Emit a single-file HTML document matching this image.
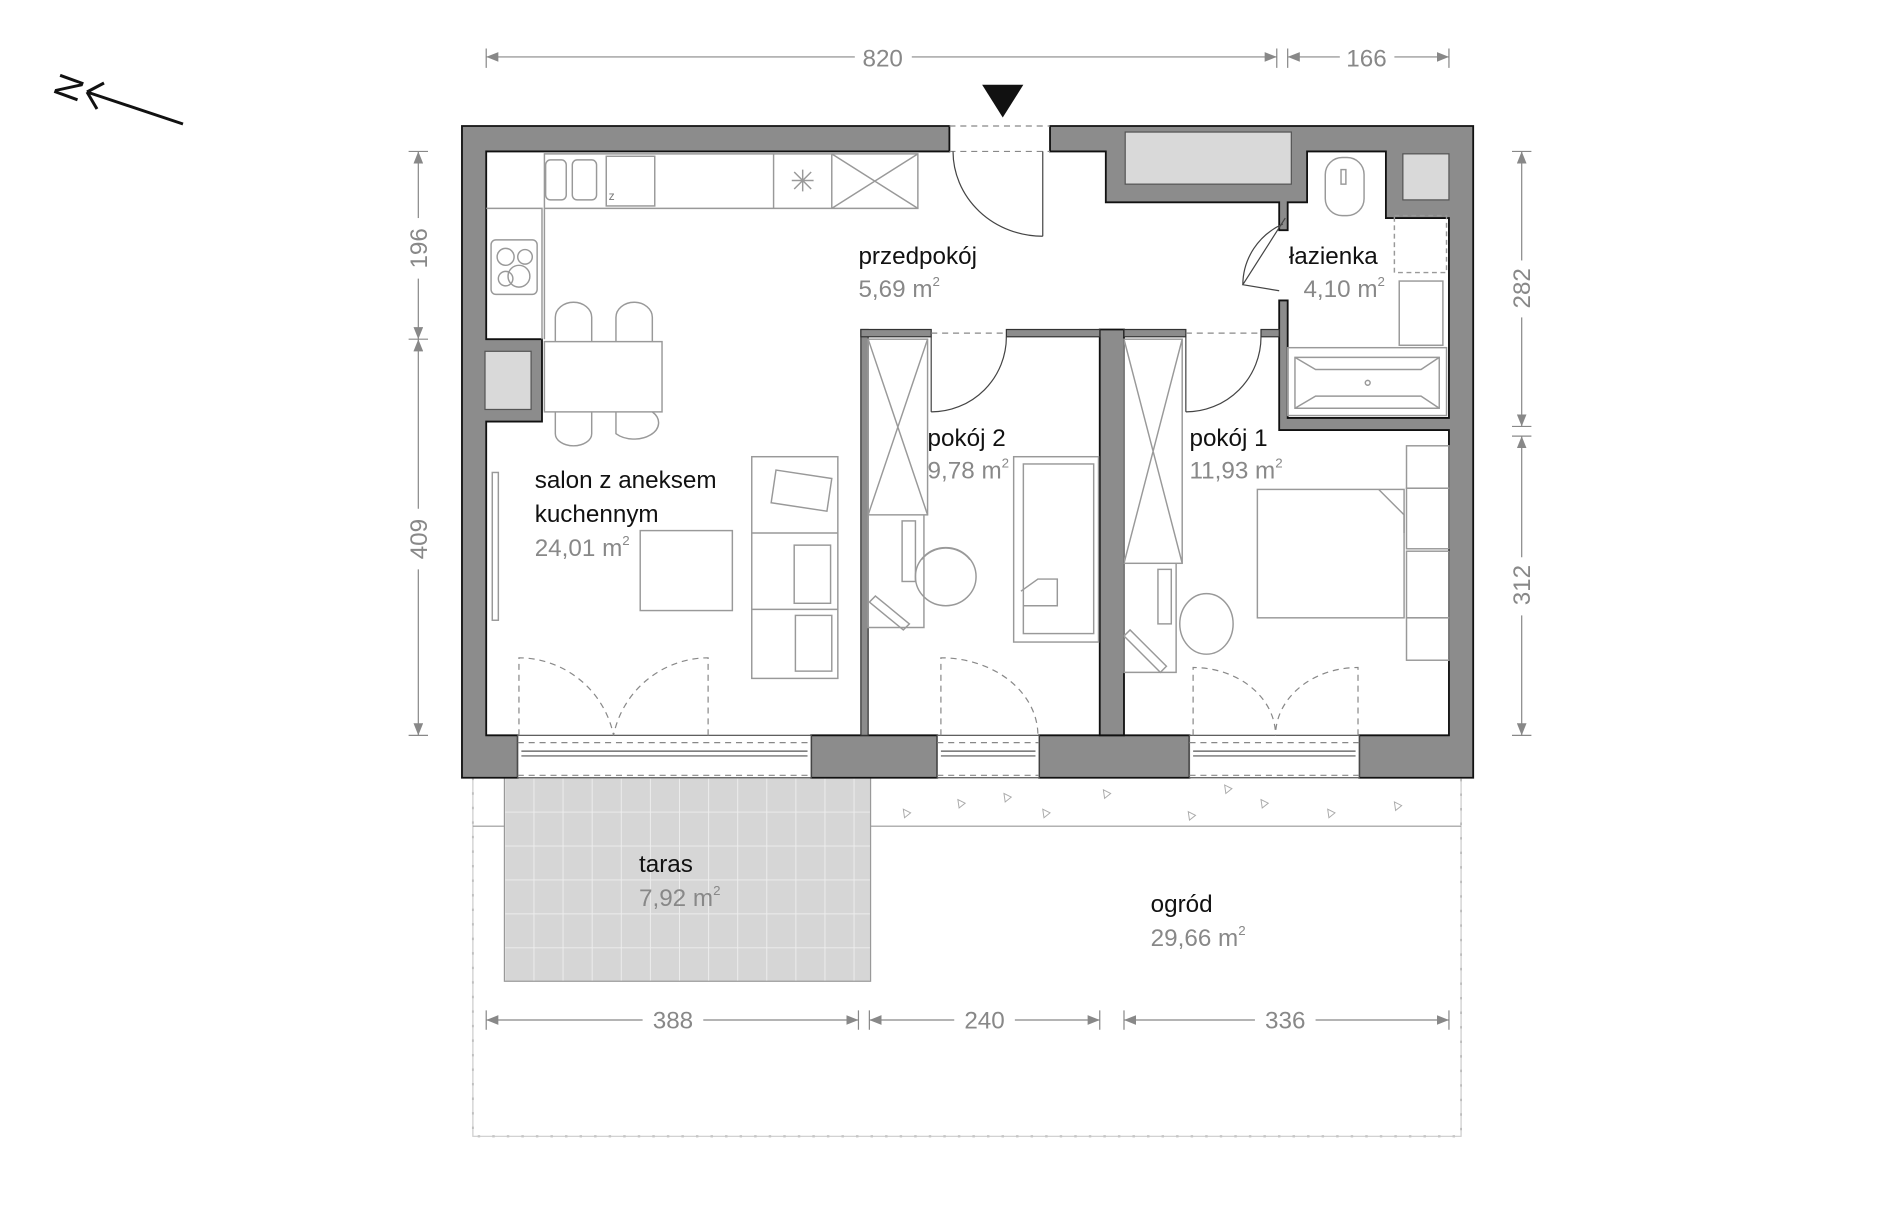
<!DOCTYPE html>
<html><head><meta charset="utf-8"><style>
html,body{margin:0;padding:0;background:#fff;width:1900px;height:1209px;overflow:hidden}
svg{display:block}
text{font-family:"Liberation Sans",sans-serif}
.lb{font-size:20px;fill:#111}
.ar{font-size:20px;fill:#888}
.dim{font-size:20px;fill:#888}
.f{fill:none;stroke:#999;stroke-width:1.2}
.d{fill:none;stroke:#888;stroke-width:1;stroke-dasharray:5 4}
</style></head><body>
<svg width="1900" height="1209" viewBox="0 0 1900 1209" style="position:absolute;left:0;top:0">
<text x="0" y="0" font-size="36" fill="#111" transform="translate(76,104) rotate(-70)" font-family="Liberation Sans">N</text>
<path d="M87,92 L183,124 M87,92 L104,83 M87,92 L97,109" fill="none" stroke="#111" stroke-width="3"/>
</svg>
<svg width="1900" height="1209" viewBox="0 0 1567 998" preserveAspectRatio="none" style="position:absolute;left:0;top:0">
<defs>
<marker id="ah" markerWidth="10" markerHeight="8" refX="10" refY="4" orient="auto-start-reverse"><path d="M0,0 L10,4 L0,8z" fill="#888"/></marker>
<pattern id="tile" x="416" y="642" width="24" height="28" patternUnits="userSpaceOnUse"><rect width="24" height="28" fill="#d6d6d6"/><path d="M0,0 H24 M0,0 V28" stroke="#eee" stroke-width="1.5"/></pattern>
</defs>

<g stroke="#888" stroke-width="1">
<path d="M401,40 V56 M1053,40 V56 M1062,40 V56 M1195,40 V56"/>
<line x1="401" y1="47" x2="705" y2="47" marker-start="url(#ah)"/>
<line x1="752" y1="47" x2="1053" y2="47" marker-end="url(#ah)"/>
<line x1="1062" y1="47" x2="1105" y2="47" marker-start="url(#ah)"/>
<line x1="1150" y1="47" x2="1195" y2="47" marker-end="url(#ah)"/>
<path d="M337,125 H353 M337,280 H353 M337,607 H353"/>
<line x1="345" y1="125" x2="345" y2="180" marker-start="url(#ah)"/>
<line x1="345" y1="230" x2="345" y2="280" marker-end="url(#ah)"/>
<line x1="345" y1="280" x2="345" y2="420" marker-start="url(#ah)"/>
<line x1="345" y1="470" x2="345" y2="607" marker-end="url(#ah)"/>
<path d="M1247,125 H1263 M1247,352 H1263 M1247,360 H1263 M1247,607 H1263"/>
<line x1="1255" y1="125" x2="1255" y2="215" marker-start="url(#ah)"/>
<line x1="1255" y1="262" x2="1255" y2="352" marker-end="url(#ah)"/>
<line x1="1255" y1="360" x2="1255" y2="460" marker-start="url(#ah)"/>
<line x1="1255" y1="508" x2="1255" y2="607" marker-end="url(#ah)"/>
<path d="M401,834 V850 M708,834 V850 M717,834 V850 M907,834 V850 M927,834 V850 M1195,834 V850"/>
<line x1="401" y1="842" x2="530" y2="842" marker-start="url(#ah)"/>
<line x1="580" y1="842" x2="708" y2="842" marker-end="url(#ah)"/>
<line x1="717" y1="842" x2="787" y2="842" marker-start="url(#ah)"/>
<line x1="837" y1="842" x2="907" y2="842" marker-end="url(#ah)"/>
<line x1="927" y1="842" x2="1035" y2="842" marker-start="url(#ah)"/>
<line x1="1085" y1="842" x2="1195" y2="842" marker-end="url(#ah)"/>
</g>
<text class="dim" x="728" y="55" text-anchor="middle">820</text>
<text class="dim" x="1127" y="55" text-anchor="middle">166</text>
<text class="dim" x="555" y="849" text-anchor="middle">388</text>
<text class="dim" x="812" y="849" text-anchor="middle">240</text>
<text class="dim" x="1060" y="849" text-anchor="middle">336</text>
<text class="dim" transform="translate(352,205) rotate(-90)" text-anchor="middle">196</text>
<text class="dim" transform="translate(352,445) rotate(-90)" text-anchor="middle">409</text>
<text class="dim" transform="translate(1262,238) rotate(-90)" text-anchor="middle">282</text>
<text class="dim" transform="translate(1262,483) rotate(-90)" text-anchor="middle">312</text>

<path d="M810,70 H844 L827,97z" fill="#111"/>

<path d="M390,642 V938 H1205 V642" fill="none" stroke="#999" stroke-width="1.5" stroke-dasharray="2 10"/>
<path d="M390,642 V938 H1205 V642" fill="none" stroke="#ccc" stroke-width="1"/>
<path d="M390,682 H416 M718,682 H1205" stroke="#999" stroke-width="1"/>
<rect x="416" y="642" width="302" height="168" fill="url(#tile)" stroke="#999"/>
<g fill="none" stroke="#aaa" stroke-width="0.8">
<path d="M790,660 l6,3 -5,4z M828,655 l6,3 -5,4z M860,668 l6,3 -5,4z M910,652 l6,3 -5,4z M980,670 l6,3 -5,4z M1040,660 l6,3 -5,4z M1095,668 l6,3 -5,4z M1150,662 l6,3 -5,4z M745,668 l6,3 -5,4z M1010,648 l6,3 -5,4z"/>
</g>

<g fill="#8c8c8c" stroke="#111" stroke-width="1.5">
<path d="M381,104 H783 V125 H401 V280 H447 V348 H401 V607 H427 V642 H381z"/>
<path d="M866,104 H1215 V642 H1121 V607 H1195 V355 H1055 V248 H1062 V345 H1195 V180 H1143 V125 H1078 V167 H1062 V190 H1055 V167 H912 V125 H866z"/>
<path d="M669,607 H773 V642 H669z"/>
<path d="M857,607 H981 V642 H857z"/>
<path d="M907,272 H927 V607 H907z"/>
</g>
<rect x="710" y="272" width="6" height="335" fill="#8c8c8c" stroke="#333" stroke-width="1"/>
<rect x="710" y="272" width="58" height="6" fill="#8c8c8c" stroke="#333" stroke-width="1"/>
<rect x="830" y="272" width="77" height="6" fill="#8c8c8c" stroke="#333" stroke-width="1"/>
<rect x="927" y="272" width="51" height="6" fill="#8c8c8c" stroke="#333" stroke-width="1"/>
<rect x="1040" y="272" width="15" height="6" fill="#8c8c8c" stroke="#333" stroke-width="1"/>
<rect x="928" y="109" width="137" height="43" fill="#d9d9d9" stroke="#555"/>
<rect x="1157" y="127" width="38" height="38" fill="#d9d9d9" stroke="#555"/>
<rect x="400" y="290" width="38" height="48" fill="#d9d9d9" stroke="#555"/>

<g fill="#fff" stroke="#555" stroke-width="1">
<rect x="427" y="607" width="242" height="35"/><rect x="773" y="607" width="84" height="35"/><rect x="981" y="607" width="140" height="35"/>
</g>
<g class="d"><path d="M427,613 H669 M427,640 H669 M773,613 H857 M773,640 H857 M981,613 H1121 M981,640 H1121 M783,104 H866 M783,125 H866 M768,275 H830 M978,275 H1040"/></g>
<g stroke="#555" fill="none" stroke-width="1"><path d="M430,620 H666 M430,624 H666 M776,620 H854 M776,624 H854 M984,620 H1118 M984,624 H1118"/></g>

<g fill="none" stroke="#444" stroke-width="1">
<path d="M860,125 V195 M786,125 A74,70 0 0 0 860,195"/>
<path d="M768,278 V340 M768,340 A62,62 0 0 0 830,278"/>
<path d="M978,278 V340 M978,340 A62,62 0 0 0 1040,278"/>
<path d="M1060,180 L1025,235 L1055,240 M1025,235 A55,55 0 0 1 1058,185"/>
</g>
<g class="d"><path d="M428,607 V543 A80,80 0 0 1 506,607 M584,607 V543 A80,80 0 0 0 506,607 M776,607 V543 A80,64 0 0 1 856,607 M984,607 V551 A68,56 0 0 1 1052,607 M1120,607 V551 A68,56 0 0 0 1052,607"/></g>

<g class="f">
<path d="M449,127 H757 V172 H449z M401,172 H447 V280"/><path d="M449,172 V280"/>
<rect x="450" y="132" width="17" height="33" rx="4"/><rect x="472" y="132" width="20" height="33" rx="4"/>
<rect x="500" y="129" width="40" height="41"/><path d="M638,127 V172 M686,127 V172 M686,127 L757,172 M757,127 L686,172"/>
<path d="M662,140 V158 M653,149 H671 M655,142 L669,156 M669,142 L655,156"/>
<rect x="405" y="198" width="38" height="45" rx="4"/>
<circle cx="417" cy="212" r="7"/><circle cx="433" cy="212" r="6"/><circle cx="417" cy="230" r="6"/><circle cx="428" cy="228" r="9"/>
<rect x="449" y="282" width="97" height="58"/>
<path d="M458,282 V262 A12,10 0 0 1 488,262 V282 M508,282 V262 A12,10 0 0 1 538,262 V282 M458,340 V358 A12,8 0 0 0 488,358 V340 M508,340 V358 A12,8 0 0 0 538,340"/>
<rect x="406" y="390" width="5" height="122"/>
<rect x="620" y="377" width="71" height="183"/><path d="M620,440 H691 M620,503 H691"/>
<path d="M640,388 L686,395 L682,422 L636,415z"/><rect x="655" y="450" width="30" height="48"/><rect x="656" y="508" width="30" height="46"/>
<rect x="528" y="438" width="76" height="66"/>
<rect x="716" y="280" width="49" height="145"/><path d="M716,280 L765,425 M765,280 L716,425"/>
<path d="M716,425 V518 H762 V425"/><rect x="744" y="430" width="11" height="50"/>
<path d="M722,492 L750,515 L745,520 L717,497z"/>
<ellipse cx="780" cy="476" rx="25" ry="24"/><path d="M760,462 A25,24 0 0 1 800,462"/>
<rect x="836" y="377" width="70" height="153"/><rect x="844" y="383" width="58" height="140"/><path d="M842,488 L856,478 H872 V500 H844"/>
<rect x="927" y="280" width="48" height="185"/><path d="M927,280 L975,465 M975,280 L927,465"/>
<path d="M927,465 V555 H970 V465"/><rect x="955" y="470" width="11" height="45"/>
<path d="M932,520 L962,550 L957,555 L927,525z"/>
<ellipse cx="995" cy="515" rx="22" ry="25"/>
<rect x="1037" y="404" width="121" height="106"/><path d="M1137,404 L1158,425 V440"/>
<rect x="1160" y="368" width="35" height="35"/><rect x="1160" y="403" width="35" height="50"/><rect x="1160" y="455" width="35" height="55"/><rect x="1160" y="510" width="35" height="35"/>
<rect x="1093" y="130" width="32" height="48" rx="14"/><rect x="1106" y="140" width="4" height="12"/>
<rect x="1150" y="178" width="43" height="47" stroke-dasharray="4 3"/><rect x="1154" y="232" width="36" height="53"/>
<rect x="1062" y="287" width="131" height="56"/><path d="M1068,295 H1187 V337 H1068z M1068,295 L1085,305 H1172 L1187,295 M1068,337 L1085,327 H1172 L1187,337"/>
<circle cx="1128" cy="316" r="2"/>
</g>
<text x="502" y="165" font-size="10" fill="#777">z</text>

<text class="lb" x="708" y="218">przedpokój</text><text class="ar" x="708" y="245">5,69 m<tspan font-size="11" dy="-9">2</tspan></text>
<text class="lb" x="1063" y="218">łazienka</text><text class="ar" x="1075" y="245">4,10 m<tspan font-size="11" dy="-9">2</tspan></text>
<text class="lb" x="765" y="368">pokój 2</text><text class="ar" x="765" y="395">9,78 m<tspan font-size="11" dy="-9">2</tspan></text>
<text class="lb" x="981" y="368">pokój 1</text><text class="ar" x="981" y="395">11,93 m<tspan font-size="11" dy="-9">2</tspan></text>
<text class="lb" x="441" y="403">salon z aneksem</text><text class="lb" x="441" y="431">kuchennym</text><text class="ar" x="441" y="459">24,01 m<tspan font-size="11" dy="-9">2</tspan></text>
<text class="lb" x="527" y="720">taras</text><text class="ar" x="527" y="748">7,92 m<tspan font-size="11" dy="-9">2</tspan></text>
<text class="lb" x="949" y="753">ogród</text><text class="ar" x="949" y="781">29,66 m<tspan font-size="11" dy="-9">2</tspan></text>
</svg>
</body></html>
